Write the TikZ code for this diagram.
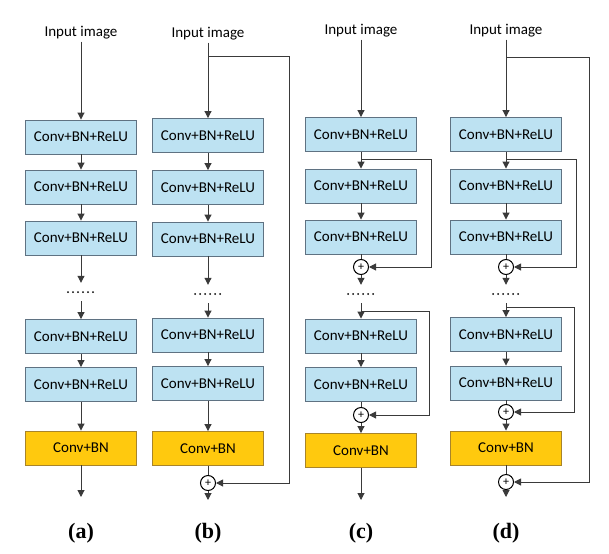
\documentclass[tikz,border=0pt]{standalone}
\usepackage{fontspec}
\setmainfont{Carlito}
\newfontfamily\capfont{Liberation Serif}
\usetikzlibrary{arrows.meta}

\definecolor{layerblue}{HTML}{BDE2F2}
\definecolor{layeredge}{HTML}{5F7282}
\definecolor{bnyellow}{HTML}{FFC90E}
\definecolor{bnedge}{HTML}{A8842A}
\definecolor{wiregray}{HTML}{3A3A3A}

\tikzset{
  layer/.style={draw=layeredge, fill=layerblue, line width=0.9pt,
    minimum width=111pt, minimum height=34pt, inner sep=0pt,
    font=\fontsize{15}{15}\selectfont},
  bnlayer/.style={layer, draw=bnedge, fill=bnyellow},
  sumnode/.style={circle, draw=black, fill=white, line width=1pt,
    minimum size=15pt, inner sep=0pt, font=\fontsize{12}{12}\selectfont},
  intext/.style={font=\fontsize{15}{15}\selectfont, inner sep=2pt},
  gap/.style={minimum width=30pt, minimum height=18pt, inner sep=0pt,
    path picture={\draw[line width=2pt, line cap=round, dash pattern=on 0pt off 5pt]
      ([xshift=2pt]path picture bounding box.west) --
      ([xshift=-2pt]path picture bounding box.east);}},
  link/.style={draw=wiregray, line width=1pt, -{Triangle[length=7pt,width=7pt]}},
  plainline/.style={draw=wiregray, line width=1pt},
  caplabel/.style={font=\capfont\bfseries\fontsize{22}{22}\selectfont}
}

\begin{document}
\begin{tikzpicture}[x=1pt, y=-1pt]
  \useasboundingbox (0,0) rectangle (609,553);

  % (a) plain stack
  \node[intext] (inA) at (81,33) {Input image};
  \node[layer] (a1) at (81,137) {Conv+BN+ReLU};
  \node[layer] (a2) at (81,187) {Conv+BN+ReLU};
  \node[layer] (a3) at (81,238) {Conv+BN+ReLU};
  \node[gap] (gapA) at (81,292) {};
  \node[layer] (a4) at (81,336.5) {Conv+BN+ReLU};
  \node[layer] (a5) at (81,384.5) {Conv+BN+ReLU};
  \node[bnlayer] (a6) at (81,448) {Conv+BN};
  \coordinate (outA) at (81,497);
  \draw[link] (inA) -- (a1);
  \draw[link] (a1) -- (a2);
  \draw[link] (a2) -- (a3);
  \draw[link] (a3) -- (gapA);
  \draw[link] (gapA) -- (a4);
  \draw[link] (a4) -- (a5);
  \draw[link] (a5) -- (a6);
  \draw[link] (a6) -- (outA);
  \node[caplabel] (capA) at (81,533) {(a)};

  % (b) one long skip
  \node[intext] (inB) at (208,34) {Input image};
  \node[layer] (b1) at (208,135.5) {Conv+BN+ReLU};
  \node[layer] (b2) at (208,187.5) {Conv+BN+ReLU};
  \node[layer] (b3) at (208,239) {Conv+BN+ReLU};
  \node[gap] (gapB) at (208,294) {};
  \node[layer] (b4) at (208,335) {Conv+BN+ReLU};
  \node[layer] (b5) at (208,383.5) {Conv+BN+ReLU};
  \node[bnlayer] (b6) at (208,448.5) {Conv+BN};
  \node[sumnode] (sumB) at (208,483) {+};
  \coordinate (outB) at (208,500);
  \coordinate (forkB) at (208,57);
  \coordinate (cornerB) at (289,57);
  \draw[link] (inB) -- (b1);
  \draw[link] (b1) -- (b2);
  \draw[link] (b2) -- (b3);
  \draw[link] (b3) -- (gapB);
  \draw[link] (gapB) -- (b4);
  \draw[link] (b4) -- (b5);
  \draw[link] (b5) -- (b6);
  \draw[plainline] (b6) -- (sumB);
  \draw[link] (sumB) -- (outB);
  \draw[link] (forkB) -- (cornerB) |- (sumB);
  \node[caplabel] (capB) at (208,533) {(b)};

  % (c) short skips
  \node[intext] (inC) at (361,31) {Input image};
  \node[layer] (c1) at (361,134.5) {Conv+BN+ReLU};
  \node[layer] (c2) at (361,186) {Conv+BN+ReLU};
  \node[layer] (c3) at (361,237) {Conv+BN+ReLU};
  \node[sumnode] (sumC1) at (361,267) {+};
  \node[gap] (gapC) at (361,294) {};
  \node[layer] (c4) at (361,336) {Conv+BN+ReLU};
  \node[layer] (c5) at (361,384.5) {Conv+BN+ReLU};
  \node[sumnode] (sumC2) at (361,415) {+};
  \node[bnlayer] (c6) at (361,450.5) {Conv+BN};
  \coordinate (outC) at (361,500);
  \coordinate (forkC1) at (361,160);
  \coordinate (cornerC1) at (431,160);
  \coordinate (forkC2) at (361,311);
  \coordinate (cornerC2) at (429,311);
  \draw[link] (inC) -- (c1);
  \draw[link] (c1) -- (c2);
  \draw[link] (c2) -- (c3);
  \draw[plainline] (c3) -- (sumC1);
  \draw[link] (sumC1) -- (gapC);
  \draw[link] (gapC) -- (c4);
  \draw[link] (c4) -- (c5);
  \draw[plainline] (c5) -- (sumC2);
  \draw[link] (sumC2) -- (c6);
  \draw[link] (c6) -- (outC);
  \draw[link] (forkC1) -- (cornerC1) |- (sumC1);
  \draw[link] (forkC2) -- (cornerC2) |- (sumC2);
  \node[caplabel] (capC) at (361,533) {(c)};

  % (d) short skips plus the long one
  \node[intext] (inD) at (506,31) {Input image};
  \node[layer] (d1) at (506,134.5) {Conv+BN+ReLU};
  \node[layer] (d2) at (506,186) {Conv+BN+ReLU};
  \node[layer] (d3) at (506,237) {Conv+BN+ReLU};
  \node[sumnode] (sumD1) at (506,267) {+};
  \node[gap] (gapD) at (506,294) {};
  \node[layer] (d4) at (506,334.5) {Conv+BN+ReLU};
  \node[layer] (d5) at (506,383) {Conv+BN+ReLU};
  \node[sumnode] (sumD2) at (506,412) {+};
  \node[bnlayer] (d6) at (506,448) {Conv+BN};
  \node[sumnode] (sumD3) at (506,482) {+};
  \coordinate (outD) at (506,497);
  \coordinate (forkD0) at (506,58);
  \coordinate (cornerD0) at (589,58);
  \coordinate (forkD1) at (506,160);
  \coordinate (cornerD1) at (576,160);
  \coordinate (forkD2) at (506,307);
  \coordinate (cornerD2) at (574,307);
  \draw[link] (inD) -- (d1);
  \draw[link] (d1) -- (d2);
  \draw[link] (d2) -- (d3);
  \draw[plainline] (d3) -- (sumD1);
  \draw[link] (sumD1) -- (gapD);
  \draw[link] (gapD) -- (d4);
  \draw[link] (d4) -- (d5);
  \draw[plainline] (d5) -- (sumD2);
  \draw[link] (sumD2) -- (d6);
  \draw[plainline] (d6) -- (sumD3);
  \draw[link] (sumD3) -- (outD);
  \draw[link] (forkD0) -- (cornerD0) |- (sumD3);
  \draw[link] (forkD1) -- (cornerD1) |- (sumD1);
  \draw[link] (forkD2) -- (cornerD2) |- (sumD2);
  \node[caplabel] (capD) at (506,533) {(d)};
\end{tikzpicture}
\end{document}
